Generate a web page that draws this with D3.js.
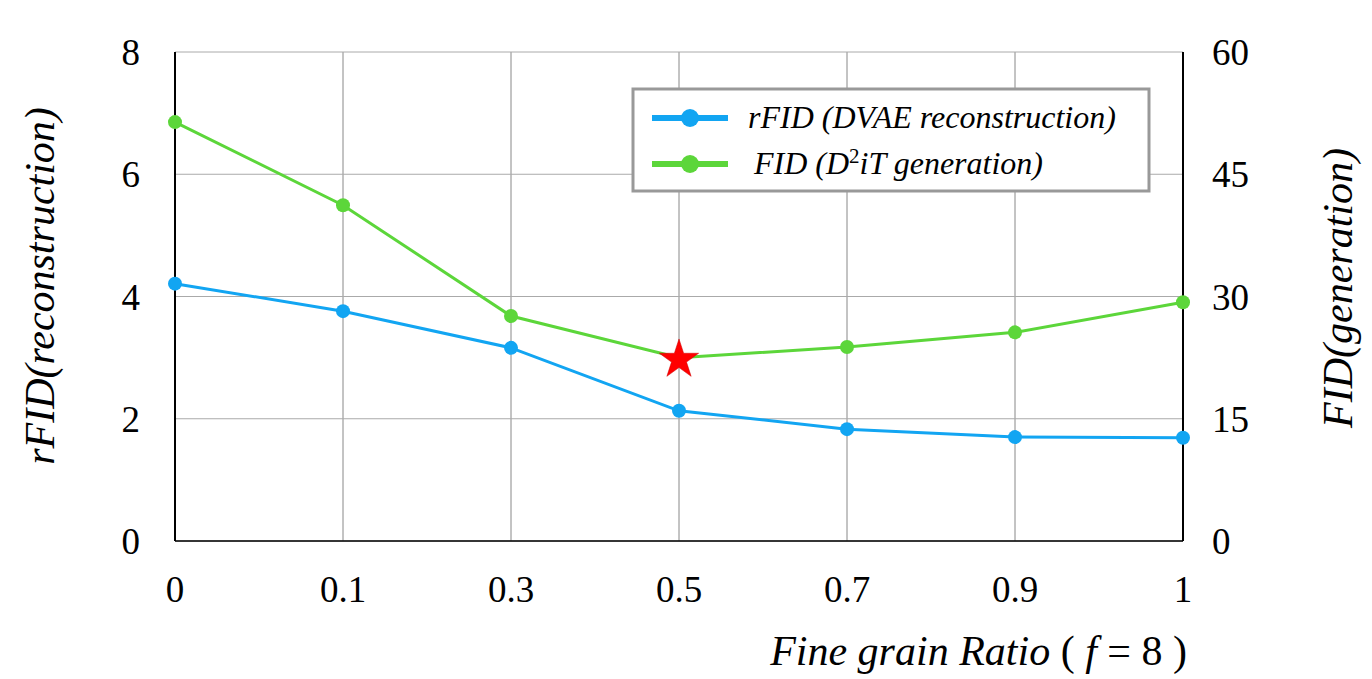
<!DOCTYPE html>
<html><head><meta charset="utf-8">
<script src="https://cdn.jsdelivr.net/npm/d3@7"></script>
<style>body{margin:0;background:#fff}</style>
</head><body>
<svg id="chart" width="1372" height="679"></svg>
<script>
var ratios = ["0", "0.1", "0.3", "0.5", "0.7", "0.9", "1"];
var rfid = [4.21, 3.76, 3.16, 2.13, 1.83, 1.70, 1.69];
var fid = [51.4, 41.2, 27.6, 22.5, 23.8, 25.6, 29.3];
var leftTicks = [0, 2, 4, 6, 8];
var rightTicks = [0, 15, 30, 45, 60];
var bestIdx = 3;

var svg = d3.select("#chart");
var font = "'Liberation Serif', 'Times New Roman', serif";
var x = d3.scalePoint().domain(ratios).range([175, 1183]);
var yl = d3.scaleLinear().domain([0, 8]).range([541, 52]);
var yr = d3.scaleLinear().domain([0, 60]).range([541, 52]);

// grid
svg.selectAll("line.vg").data(ratios).enter().append("line")
    .attr("x1", d => x(d)).attr("x2", d => x(d))
    .attr("y1", 52).attr("y2", 541)
    .attr("stroke", "#888").attr("stroke-width", 1);
svg.selectAll("line.hg").data(leftTicks).enter().append("line")
    .attr("x1", 175).attr("x2", 1183)
    .attr("y1", d => yl(d)).attr("y2", d => yl(d))
    .attr("stroke", "#aaa").attr("stroke-width", 1);
svg.append("line").attr("x1", 175).attr("x2", 175).attr("y1", 52).attr("y2", 541).attr("stroke", "#000").attr("stroke-width", 2);
svg.append("line").attr("x1", 1183).attr("x2", 1183).attr("y1", 52).attr("y2", 541).attr("stroke", "#000").attr("stroke-width", 2);
svg.append("line").attr("x1", 175).attr("x2", 1183).attr("y1", 541).attr("y2", 541).attr("stroke", "#000").attr("stroke-width", 1.5);

// tick labels
svg.selectAll("text.lt").data(leftTicks).enter().append("text")
    .attr("x", 140).attr("y", d => yl(d) + 13).attr("text-anchor", "end")
    .attr("font-family", font).attr("font-size", 37).text(d => d);
svg.selectAll("text.rt").data(rightTicks).enter().append("text")
    .attr("x", 1212).attr("y", d => yr(d) + 13)
    .attr("font-family", font).attr("font-size", 37).text(d => d);
svg.selectAll("text.xt").data(ratios).enter().append("text")
    .attr("x", d => x(d)).attr("y", 602).attr("text-anchor", "middle")
    .attr("font-family", font).attr("font-size", 37).text(d => d);

// axis titles
svg.append("text").attr("transform", "translate(54,286) rotate(-90)").attr("text-anchor", "middle")
    .attr("font-family", font).attr("font-size", 42).attr("font-style", "italic").text("rFID(reconstruction)");
svg.append("text").attr("transform", "translate(1352,288) rotate(-90)").attr("text-anchor", "middle")
    .attr("font-family", font).attr("font-size", 42).attr("font-style", "italic").text("FID(generation)");
var xt = svg.append("text").attr("x", 1187).attr("y", 665).attr("text-anchor", "end")
    .attr("font-family", font).attr("font-size", 42);
xt.append("tspan").attr("font-style", "italic").text("Fine grain Ratio");
xt.append("tspan").text(" ( ");
xt.append("tspan").attr("font-style", "italic").text("f");
xt.append("tspan").text(" = 8 )");

// lines
var blue = "#12a5f2", green = "#5cd63a";
svg.append("path").datum(rfid).attr("fill", "none").attr("stroke", blue).attr("stroke-width", 3)
    .attr("d", d3.line().x((d, i) => x(ratios[i])).y(d => yl(d)));
svg.append("path").datum(fid).attr("fill", "none").attr("stroke", green).attr("stroke-width", 3)
    .attr("d", d3.line().x((d, i) => x(ratios[i])).y(d => yr(d)));
svg.selectAll("circle.b").data(rfid).enter().append("circle")
    .attr("cx", (d, i) => x(ratios[i])).attr("cy", d => yl(d)).attr("r", 7).attr("fill", blue);
svg.selectAll("circle.g").data(fid).enter().append("circle")
    .attr("cx", (d, i) => x(ratios[i])).attr("cy", d => yr(d)).attr("r", 7)
    .attr("fill", green).attr("opacity", (d, i) => i === bestIdx ? 0 : 1);
svg.append("path").attr("d", d3.symbol().type(d3.symbolStar).size(480)())
    .attr("transform", "translate(" + x(ratios[bestIdx]) + "," + (yr(fid[bestIdx]) + 2) + ")")
    .attr("fill", "#ff0000").attr("stroke", "#c00").attr("stroke-width", 0.5);

// legend
var lg = svg.append("g");
lg.append("rect").attr("x", 633).attr("y", 89).attr("width", 516).attr("height", 102)
    .attr("fill", "#fff").attr("stroke", "#999").attr("stroke-width", 3);
[[blue, 118, "rFID (DVAE reconstruction)"], [green, 164, null]].forEach(function (e) {
    lg.append("line").attr("x1", 652).attr("x2", 728).attr("y1", e[1]).attr("y2", e[1]).attr("stroke", e[0]).attr("stroke-width", 6);
    lg.append("circle").attr("cx", 690).attr("cy", e[1]).attr("r", 9).attr("fill", e[0]);
    var t = lg.append("text").attr("x", 748).attr("y", e[1] + 10).attr("font-family", font)
        .attr("font-size", 32).attr("font-style", "italic");
    if (e[2]) t.text(e[2]);
    else {
        t.attr("x", 754);
        t.append("tspan").text("FID (D");
        t.append("tspan").attr("font-size", 21).attr("dy", -11).attr("font-style", "normal").text("2");
        t.append("tspan").attr("dy", 11).text("iT generation)");
    }
});
</script>
</body></html>
